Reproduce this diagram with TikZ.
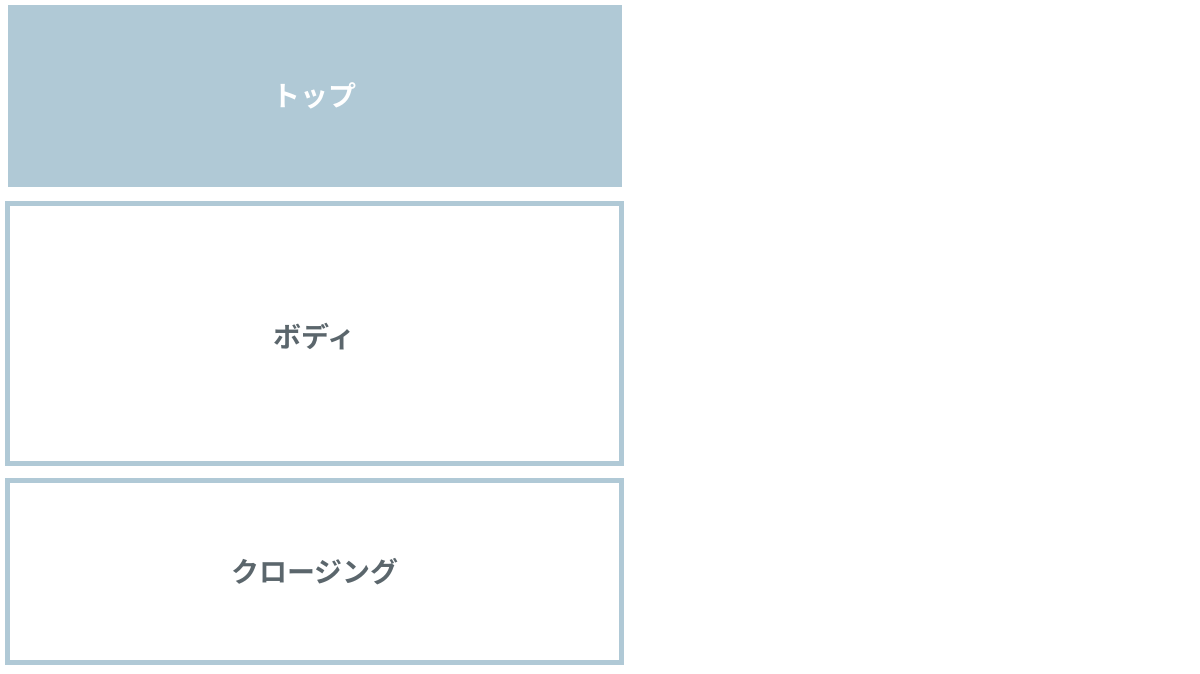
\documentclass[tikz,border=0pt]{standalone}
\usepackage{fontspec}
\usepackage{xcolor}
\newfontfamily\jpfont{Noto Sans CJK JP}[BoldFont={Noto Sans CJK JP Bold}]
\definecolor{sectionblue}{HTML}{B0C9D6}
\definecolor{labelgrey}{HTML}{5B666C}

\tikzset{
    sectionbox/.style = {rectangle, inner sep = 0pt, outer sep = 0pt, minimum width = 614pt, font = \jpfont\bfseries\fontsize{28}{34}\selectfont},
    topbox/.style = {sectionbox, fill = sectionblue, text = white, minimum height = 182.3pt},
    framebox/.style = {sectionbox, draw = sectionblue, line width = 5pt, text = labelgrey}
}

\begin{document}
\begin{tikzpicture}[x = 1pt, y = -1pt]
        % Page frame
        \useasboundingbox (0, 0) rectangle (1200, 674);

        % Sections
        \node [topbox] (top) at (314.7, 95.9) {トップ};
        \node [framebox, minimum height = 260.1pt] (body) at (314.8, 333.3) {\raisebox{-3pt}[\height][\depth]{ボディ}};
        \node [framebox, minimum height = 182.3pt] (closing) at (314.8, 571.4) {クロージング};

    \end{tikzpicture}
\end{document}
